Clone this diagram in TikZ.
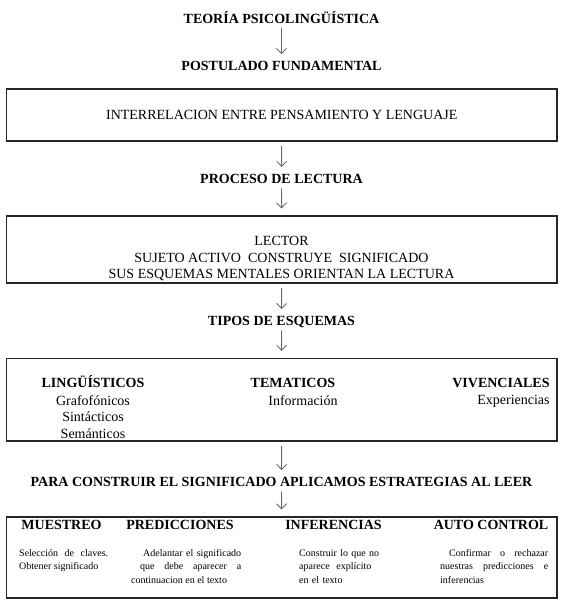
\documentclass[tikz,border=0pt]{standalone}
\usepackage{fontspec}
\setmainfont{Liberation Serif}
\usepackage{tikz}
\usetikzlibrary{arrows.meta, positioning}

\definecolor{flechagris}{RGB}{108,108,86}

\tikzset{
  titulo/.style={font=\bfseries\fontsize{14}{16.5}\selectfont, inner sep=0pt, text height=9.5pt, text depth=0pt},
  texto/.style={font=\fontsize{14}{16.5}\selectfont, align=center, inner sep=0pt},
  chico/.style={font=\fontsize{10}{13.5}\selectfont, inner sep=0pt, align=justify, anchor=north west},
  caja/.style={draw=black!85, line width=1.2pt, minimum width=550.5pt},
  flecha/.style={draw=flechagris, line width=0.9pt, -{Straight Barb[length=5pt,width=10pt]}, shorten <=4.5pt, shorten >=7pt},
}

\begin{document}
\begin{tikzpicture}[x=1pt, y=-1pt]
  \useasboundingbox (0,0) rectangle (565,607);

  % Titles
  \node[titulo] (teoria) at (281.5,19) {TEORÍA PSICOLINGÜÍSTICA};
  \node[titulo] (postulado) at (281.5,66) {POSTULADO FUNDAMENTAL};
  \node[caja, texto, minimum height=52pt] (interrel) at (281.75,115) {INTERRELACION ENTRE PENSAMIENTO Y LENGUAJE};
  \node[titulo] (proceso) at (281.5,179) {PROCESO DE LECTURA};

  % Reader box
  \node[caja, minimum height=67pt] (lectorcaja) at (281.75,249.5) {};
  \node[texto] (lector) at (281.5,258.5) {LECTOR\\ SUJETO ACTIVO\ \ CONSTRUYE\ \ SIGNIFICADO\\ SUS ESQUEMAS MENTALES ORIENTAN LA LECTURA};

  \node[titulo] (tipos) at (281.5,321) {TIPOS DE ESQUEMAS};

  % Schema types
  \node[caja, minimum height=82.5pt] (esquemas) at (281.75,399.75) {};
  \node[titulo] (ling) at (93,383) {LINGÜÍSTICOS};
  \node[titulo] (tema) at (293,383) {TEMATICOS};
  \node[titulo] (viv) at (501,383) {VIVENCIALES};
  \node[texto, below=7pt of ling] (lingsub) {Grafofónicos\\ Sintácticos\\ Semánticos};
  \node[texto, below=7pt of tema, xshift=10pt] (temasub) {Información};
  \node[texto, below=7pt of viv.south east, anchor=north east] (vivsub) {Experiencias};

  \node[titulo] (para) at (281.5,482) {PARA CONSTRUIR EL SIGNIFICADO APLICAMOS ESTRATEGIAS AL LEER};

  % Strategies
  \node[caja, minimum height=81pt] (estrategias) at (281.75,557.5) {};
  \node[titulo] (muestreo) at (61.5,525) {MUESTREO};
  \node[titulo] (predic) at (180,525) {PREDICCIONES};
  \node[titulo] (infer) at (333.5,525) {INFERENCIAS};
  \node[titulo] (auto) at (491,525) {AUTO CONTROL};
  \node[chico, text width=89pt] (muestreotx) at (19,549) {Selección de claves.\linebreak Obtener significado};
  \node[chico, text width=110pt] (predictx) at (131,549) {\hspace*{12pt}Adelantar el significado\linebreak \hspace*{9pt}que debe aparecer a\linebreak continuacion en el texto};
  \node[chico, align=left, text width=85pt] (infertx) at (299,549) {Construir lo que no\\ aparece\ \ explícito\\ en el texto};
  \node[chico, text width=108pt] (autotx) at (440,549) {\hspace*{9pt}Confirmar o rechazar\linebreak nuestras predicciones e\linebreak inferencias};

  % Arrows
  \draw[flecha] (teoria) -- (postulado);
  \draw[flecha] (interrel) -- (proceso);
  \draw[flecha] (proceso) -- (lectorcaja);
  \draw[flecha] (lectorcaja) -- (tipos);
  \draw[flecha] (tipos) -- (esquemas);
  \draw[flecha] (esquemas) -- (para);
  \draw[flecha] (para) -- (estrategias);
\end{tikzpicture}
\end{document}
